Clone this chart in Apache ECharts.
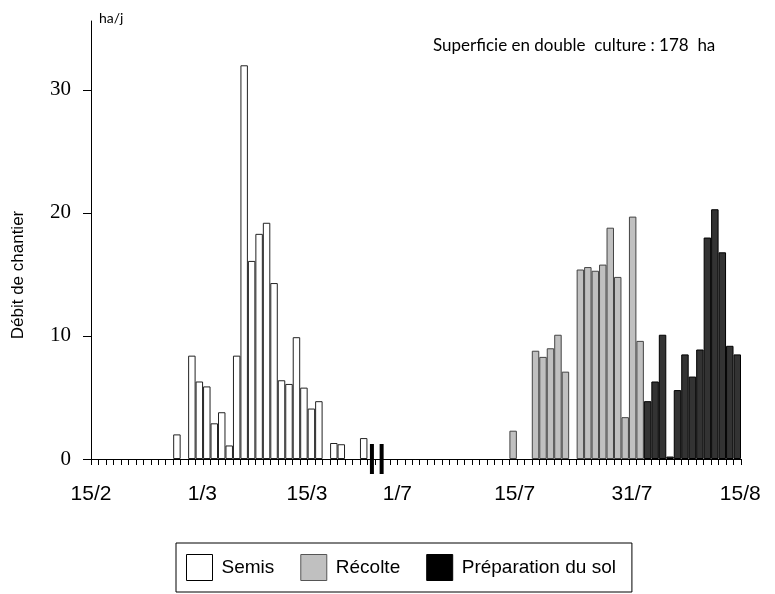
<!DOCTYPE html>
<html><head><meta charset="utf-8">
<script src="https://cdn.jsdelivr.net/npm/echarts@6/dist/echarts.min.js"></script>
<style>html,body{margin:0;padding:0;background:#fff}#c{width:775px;height:594px}</style>
</head><body><div id="c"></div>
<script>
// one slot per day on the (broken) time axis
const slotCount = 87;
const days = Array.from({length: slotCount}, (_, i) => i);

// Semis (sowing)
const semisDays = [11, 13, 14, 15, 16, 17, 18, 19, 20, 21, 22, 23, 24, 25, 26, 27, 28, 29, 30, 32, 33, 36];
const semisHa   = [2.0, 8.4, 6.3, 5.9, 2.9, 3.8, 1.1, 8.4, 32.0, 16.1, 18.3, 19.2, 14.3, 6.4, 6.1, 9.9, 5.8, 4.1, 4.7, 1.3, 1.2, 1.7];

// Récolte (harvest)
const recolteDays = [56, 59, 60, 61, 62, 63, 65, 66, 67, 68, 69, 70, 71, 72, 73];
const recolteHa   = [2.3, 8.8, 8.3, 9.0, 10.1, 7.1, 15.4, 15.6, 15.3, 15.8, 18.8, 14.8, 3.4, 19.7, 9.6];

// Préparation du sol (soil preparation)
const prepDays = [74, 75, 76, 77, 78, 79, 80, 81, 82, 83, 84, 85, 86];
const prepHa   = [4.7, 6.3, 10.1, 0.2, 5.6, 8.5, 6.7, 8.9, 18.0, 20.3, 16.8, 9.2, 8.5];

// x tick labels and their positions on the day axis
const tickLabels = ['15/2', '1/3', '15/3', '1/7', '15/7', '31/7', '15/8'];
const tickAt     = [0, 14.9, 28.9, 41.0, 56.7, 72.4, 86.9];

// y ticks
const yTicks = [0, 10, 20, 30];

// axis break position (between March and July)
const breakAt = [37.6, 38.9];

function spread(dayList, vals) {
  const a = days.map(() => '-');
  dayList.forEach((d, i) => { a[d] = vals[i]; });
  return a;
}

const chart = echarts.init(document.getElementById('c'));
const barCommon = { type: 'bar', xAxisIndex: 0, yAxisIndex: 0, barWidth: '100%', barGap: '-100%', barCategoryGap: 0 };
chart.setOption({
  animation: false,
  grid: { left: 91, right: 34, top: 21, bottom: 135, containLabel: false },
  xAxis: [
    { type: 'category', data: days, boundaryGap: true,
      axisLine: { show: true, lineStyle: { color: '#000', width: 1 } },
      axisTick: { show: true, interval: 0, length: 6, lineStyle: { color: '#000', width: 1 } },
      axisLabel: { show: false }, splitLine: { show: false } },
    { type: 'value', min: 0, max: slotCount, position: 'bottom',
      axisLine: { show: false }, axisTick: { show: false }, splitLine: { show: false },
      axisLabel: { customValues: tickAt, formatter: v => { const i = tickAt.indexOf(v); return i >= 0 ? tickLabels[i] : ''; },
        fontFamily: 'Liberation Sans', fontSize: 21, color: '#000', margin: 25 } }
  ],
  yAxis: { type: 'value', min: 0, max: 35.6,
    axisLine: { show: true, lineStyle: { color: '#000', width: 1 } },
    axisTick: { show: true, customValues: yTicks, length: 8, lineStyle: { color: '#000' } },
    axisLabel: { customValues: yTicks, fontFamily: 'Liberation Serif', fontSize: 21, color: '#000', margin: 20 },
    splitLine: { show: false } },
  legend: {
    data: [
      { name: 'Semis', itemStyle: { color: '#fff', borderColor: '#000', borderWidth: 1 } },
      { name: 'Récolte', itemStyle: { color: '#c0c0c0', borderColor: '#555', borderWidth: 1 } },
      { name: 'Préparation du sol', itemStyle: { color: '#000', borderColor: '#000', borderWidth: 1 } }
    ],
    left: 176, top: 543, orient: 'horizontal', icon: 'rect',
    itemWidth: 26, itemHeight: 26, itemGap: 26,
    padding: [11, 16, 11, 10], borderColor: '#000', borderWidth: 1,
    textStyle: { fontFamily: 'Liberation Sans', fontSize: 19, color: '#000', padding: [0, 0, 0, 4] }
  },
  graphic: [
    { type: 'text', left: 99, top: 11, style: { text: 'ha/j', font: '14px Lato', fill: '#000' } },
    { type: 'text', left: 433, top: 37, style: { text: 'Superficie en double  culture : 178  ha', font: '17px Lato', fill: '#000' } },
    { type: 'text', x: 18, y: 275, rotation: Math.PI / 2,
      style: { text: 'Débit de chantier', font: '17px "Liberation Sans"', fill: '#000', align: 'center', verticalAlign: 'middle', textAlign: 'center', textVerticalAlign: 'middle' } }
  ],
  series: [
    Object.assign({ name: 'Semis', data: spread(semisDays, semisHa), itemStyle: { color: '#fff', borderColor: '#222', borderWidth: 1 } }, barCommon),
    Object.assign({ name: 'Récolte', data: spread(recolteDays, recolteHa), itemStyle: { color: '#c0c0c0', borderColor: '#444', borderWidth: 1 } }, barCommon),
    Object.assign({ name: 'Préparation du sol', data: spread(prepDays, prepHa), itemStyle: { color: '#333', borderColor: '#000', borderWidth: 1 } }, barCommon),
    { type: 'custom', xAxisIndex: 1, yAxisIndex: 0, silent: true, z: 5,
      data: breakAt.map(v => [v, 0]),
      renderItem: (params, api) => {
        const c = api.coord([api.value(0), 0]);
        return { type: 'rect', shape: { x: c[0] - 2, y: c[1] - 15, width: 4, height: 30 }, style: { fill: '#000' } };
      } }
  ]
});
</script>
</body></html>
